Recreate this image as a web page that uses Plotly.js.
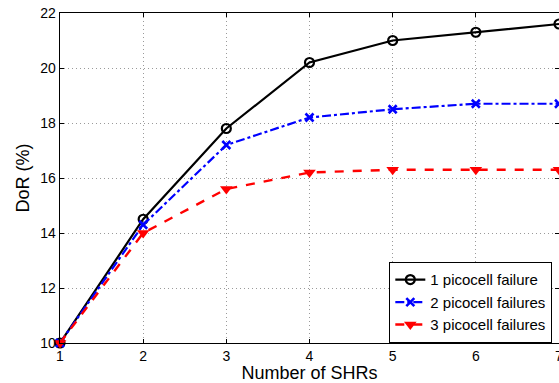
<!DOCTYPE html>
<html><head><meta charset="utf-8">
<script src="https://cdn.plot.ly/plotly-3.0.1.min.js"></script>
<style>html,body{margin:0;padding:0;background:#fff}</style>
</head><body><div id="chart" style="width:559px;height:383px"></div>
<script>
const shrs = [1, 2, 3, 4, 5, 6, 7];
const oneFailure = [10, 14.5, 17.8, 20.2, 21.0, 21.3, 21.6];
const twoFailures = [10, 14.3, 17.2, 18.2, 18.5, 18.7, 18.7];
const threeFailures = [10, 14.0, 15.6, 16.2, 16.3, 16.3, 16.3];
const seriesNames = ['1 picocell failure', '2 picocell failures', '3 picocell failures'];

const traces = [
  {x: shrs, y: oneFailure, name: seriesNames[0], mode: 'lines+markers', cliponaxis: false,
   line: {color: '#000000', width: 2.2},
   marker: {symbol: 'circle-open', size: 9, color: '#000000', line: {width: 2.2}}},
  {x: shrs, y: twoFailures, name: seriesNames[1], mode: 'lines+markers', cliponaxis: false,
   line: {color: '#0000ff', width: 2.2, dash: 'dashdot'},
   marker: {symbol: 'x-thin-open', size: 8, color: '#0000ff', line: {width: 2.6, color: '#0000ff'}}},
  {x: shrs, y: threeFailures, name: seriesNames[2], mode: 'lines+markers', cliponaxis: false,
   line: {color: '#ff0000', width: 2.4, dash: 'dash'},
   marker: {symbol: 'triangle-down', size: 11, color: '#ff0000'}}
];

const axisCommon = {
  showline: true, linecolor: '#000', linewidth: 1.3, mirror: 'ticks',
  ticks: 'inside', ticklen: 4, tickcolor: '#000',
  showgrid: true, gridcolor: '#9a9a9a', griddash: '1px,3px', gridwidth: 1,
  zeroline: false, ticklabeloverflow: 'allow',
  tickfont: {family: 'Liberation Sans, Arial, sans-serif', size: 14, color: '#000'}
};

const layout = {
  width: 559, height: 383,
  margin: {l: 60, r: 0, t: 13, b: 40},
  paper_bgcolor: '#fff', plot_bgcolor: '#fff',
  font: {family: 'Liberation Sans, Arial, sans-serif', color: '#000'},
  xaxis: Object.assign({}, axisCommon, {
    range: [1, 7], tickvals: shrs,
    title: {text: 'Number of SHRs', font: {size: 18}, standoff: 0}
  }),
  yaxis: Object.assign({}, axisCommon, {
    range: [10, 22], dtick: 2,
    title: {text: 'DoR (%)', font: {size: 18}, standoff: 6}
  }),
  showlegend: true,
  legend: {
    x: 0.986, xanchor: 'right', y: 0, yanchor: 'bottom',
    bgcolor: '#fff', bordercolor: '#000', borderwidth: 1.3,
    font: {size: 15, color: '#000'}, tracegroupgap: 0
  }
};

Plotly.newPlot('chart', traces, layout, {displayModeBar: false, staticPlot: true});
</script></body></html>
